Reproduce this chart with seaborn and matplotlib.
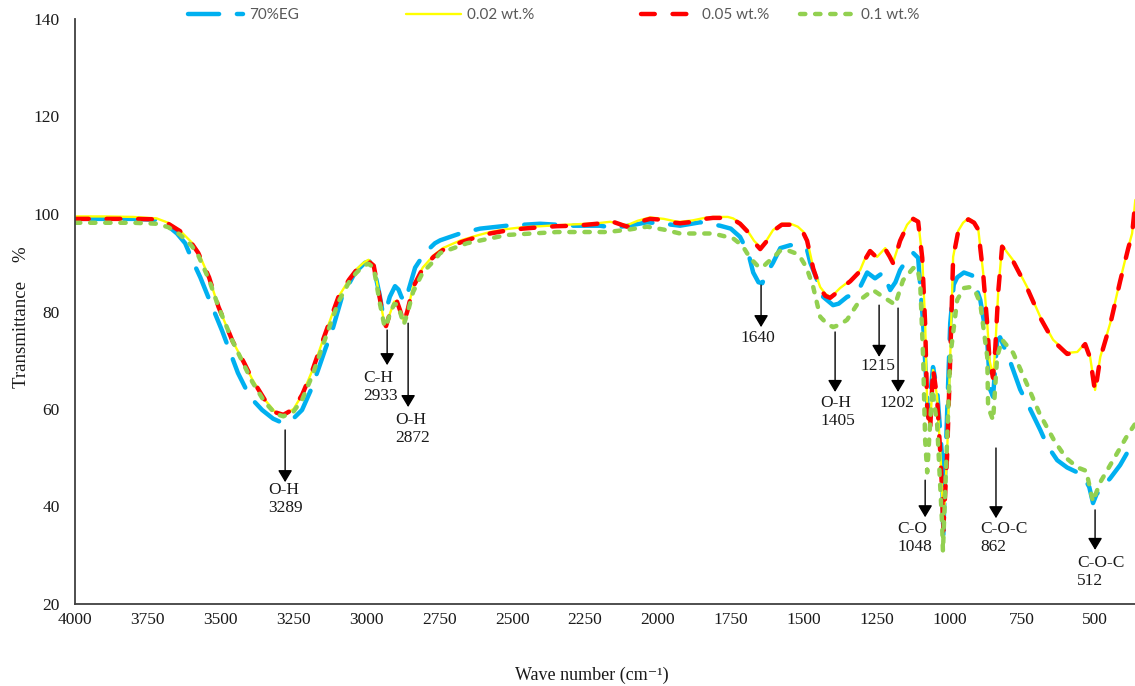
import matplotlib
matplotlib.use("Agg")
import matplotlib.pyplot as plt
from matplotlib.font_manager import FontProperties
import seaborn as sns

# ---------------- data ----------------
wn_yr = [4000, 3900, 3800, 3720, 3680, 3640, 3600, 3577, 3540, 3508, 3460, 3420, 3391, 3350, 3312, 3285,
         3250, 3220, 3185, 3150, 3120, 3096, 3060, 3037, 3010, 2993, 2975, 2955, 2940, 2933, 2920, 2905,
         2895, 2885, 2872, 2860, 2840, 2807, 2770, 2738, 2700, 2676, 2620, 2576, 2520, 2463, 2400, 2346,
         2280, 2209, 2164, 2130, 2106, 2070, 2027, 1980, 1940, 1924, 1880, 1840, 1811, 1760, 1742, 1718,
         1694, 1670, 1649, 1627, 1605, 1575, 1545, 1520, 1500, 1488, 1467, 1443, 1425, 1409, 1392, 1375,
         1340, 1306, 1290, 1272, 1248, 1220, 1205, 1193, 1180, 1169, 1145, 1124, 1107, 1093, 1083, 1076,
         1066, 1056, 1042, 1030, 1025, 1021, 1008, 997, 987, 970, 953, 935, 915, 901, 884, 870,
         862, 850, 843, 832, 819, 800, 781, 733, 688, 644, 596, 561, 534, 517, 500, 482,
         448, 414, 386, 373, 362]
t_yellow = [99.5, 99.5, 99.4, 99.1, 98.2, 96.6, 94.2, 92.2, 87.0, 81.0, 74.0, 69.5, 66.0, 62.0, 59.3, 58.8,
            60.0, 63.0, 68.0, 74.0, 79.0, 83.0, 86.5, 88.5, 90.0, 90.6, 89.6, 83.0, 78.0, 77.3, 79.5, 82.0,
            82.2, 80.5, 78.0, 80.0, 85.0, 89.0, 91.5, 93.0, 94.0, 94.6, 95.6, 96.3, 96.9, 97.3, 97.5, 97.7,
            97.9, 98.1, 98.4, 98.0, 97.7, 98.6, 99.3, 99.0, 98.5, 98.4, 98.7, 99.2, 99.4, 99.4, 99.1, 98.2,
            96.7, 94.5, 93.2, 94.6, 96.7, 98.0, 98.0, 97.4, 96.3, 94.7, 89.0, 85.0, 83.6, 83.0, 83.8, 84.8,
            86.4, 88.5, 90.8, 92.6, 91.2, 93.0, 91.5, 90.1, 92.5, 94.7, 97.8, 99.2, 98.6, 91.2, 77.6, 60.4,
            55.7, 68.0, 62.5, 50.0, 43.4, 35.2, 50.2, 70.7, 91.2, 96.5, 98.2, 99.1, 98.4, 97.0, 88.0, 77.6,
            70.0, 66.6, 72.0, 84.4, 93.5, 92.0, 90.5, 85.0, 78.9, 74.2, 71.5, 71.7, 73.5, 70.7, 63.9, 70.7,
            77.6, 86.4, 93.2, 96.0, 102.9]
t_red = [99.0, 99.0, 99.0, 98.9, 98.0, 96.5, 94.0, 92.0, 87.0, 81.0, 74.0, 69.5, 66.0, 62.0, 59.3, 58.8,
         60.0, 63.0, 68.0, 74.0, 79.0, 83.0, 86.5, 88.3, 89.8, 90.3, 89.4, 83.0, 78.0, 77.0, 79.5, 81.8,
         82.0, 80.3, 77.6, 80.0, 85.0, 88.8, 91.2, 92.6, 93.6, 94.2, 95.3, 96.0, 96.6, 97.0, 97.3, 97.5,
         97.6, 98.0, 98.6, 97.9, 97.4, 98.3, 99.0, 98.8, 98.2, 98.1, 98.4, 99.0, 99.2, 99.2, 98.9, 98.0,
         96.5, 94.2, 92.8, 94.4, 96.5, 97.8, 97.8, 97.2, 96.0, 94.5, 88.8, 84.6, 83.2, 82.8, 83.6, 84.6,
         86.2, 88.3, 90.6, 92.4, 91.0, 92.8, 91.3, 89.9, 92.3, 94.5, 97.6, 99.0, 98.4, 91.0, 77.4, 60.2,
         55.5, 68.4, 62.3, 49.8, 43.2, 35.0, 50.0, 70.5, 91.0, 96.3, 98.0, 98.9, 98.2, 96.8, 87.8, 77.4,
         69.8, 66.4, 71.8, 84.2, 93.3, 91.8, 90.3, 84.8, 78.7, 74.0, 71.3, 71.5, 73.3, 70.5, 63.5, 70.5,
         77.4, 86.2, 93.0, 95.8, 102.5]

wn_blue = [4000, 3900, 3800, 3720, 3690, 3650, 3622, 3598, 3570, 3543, 3495, 3441, 3400, 3358, 3320, 3290,
           3260, 3221, 3190, 3166, 3140, 3118, 3084, 3039, 3005, 2990, 2975, 2955, 2945, 2936, 2920, 2902,
           2890, 2880, 2868, 2855, 2833, 2800, 2765, 2747, 2679, 2610, 2518, 2404, 2291, 2200, 2154, 2100,
           2037, 1980, 1924, 1855, 1787, 1750, 1718, 1690, 1673, 1655, 1642, 1625, 1605, 1580, 1546, 1522,
           1488, 1477, 1454, 1433, 1399, 1380, 1351, 1316, 1282, 1255, 1227, 1203, 1185, 1169, 1135, 1124,
           1107, 1090, 1073, 1056, 1042, 1025, 1021, 1010, 997, 985, 973, 950, 922, 894, 870, 860,
           850, 836, 826, 790, 757, 723, 688, 664, 630, 596, 561, 540, 520, 507, 495, 482,
           448, 414, 390, 362]
t_blue = [99.0, 99.0, 99.0, 98.8, 98.0, 96.0, 94.0, 90.6, 87.0, 83.0, 76.0, 67.4, 62.5, 59.8, 58.0, 57.2,
          57.5, 59.8, 64.0, 68.0, 72.5, 76.0, 83.0, 88.0, 90.0, 90.3, 89.0, 83.5, 80.0, 79.5, 83.0, 85.2,
          84.5, 83.0, 82.0, 84.5, 89.0, 92.0, 94.0, 94.6, 96.0, 97.0, 97.6, 98.0, 97.6, 97.6, 97.2, 97.6,
          98.3, 98.0, 97.6, 98.3, 97.6, 97.0, 95.3, 92.0, 88.0, 86.0, 85.8, 88.0, 90.0, 93.0, 93.6, 93.6,
          92.6, 90.0, 86.5, 83.0, 81.3, 81.6, 83.0, 83.8, 88.0, 86.8, 88.0, 84.4, 86.0, 88.5, 91.6, 92.0,
          91.0, 77.6, 58.4, 68.6, 64.0, 50.2, 33.5, 55.0, 77.6, 85.5, 87.0, 88.0, 87.4, 82.4, 74.0, 64.0,
          62.5, 74.0, 74.7, 69.5, 64.0, 60.0, 55.7, 52.5, 49.5, 48.0, 47.0, 46.2, 44.0, 40.7, 42.5, 43.5,
          45.8, 48.5, 51.0, 53.0]

wn_green = [4000, 3900, 3800, 3720, 3680, 3640, 3600, 3577, 3540, 3508, 3460, 3420, 3391, 3350, 3312, 3285,
            3250, 3220, 3185, 3150, 3120, 3096, 3060, 3037, 3010, 2993, 2975, 2955, 2940, 2933, 2920, 2905,
            2895, 2885, 2872, 2860, 2840, 2807, 2770, 2747, 2655, 2518, 2346, 2174, 2100, 2037, 1980, 1924,
            1811, 1742, 1710, 1684, 1660, 1642, 1625, 1605, 1580, 1557, 1530, 1512, 1490, 1467, 1443, 1420,
            1399, 1375, 1351, 1306, 1262, 1227, 1186, 1159, 1124, 1110, 1100, 1090, 1083, 1076, 1059, 1042,
            1025, 1022, 1010, 997, 973, 950, 929, 910, 894, 870, 867, 850, 836, 819, 781, 733,
            690, 640, 600, 560, 530, 515, 507, 495, 482, 448, 414, 390, 362]
t_green = [98.2, 98.2, 98.2, 98.0, 97.3, 95.8, 93.5, 91.5, 86.5, 81.0, 74.0, 69.0, 65.5, 61.5, 59.0, 58.5,
           59.5, 62.0, 67.0, 73.0, 78.0, 82.0, 86.0, 87.8, 89.4, 89.8, 89.0, 82.0, 77.5, 76.8, 79.5, 81.5,
           81.5, 80.0, 77.3, 79.5, 84.0, 88.0, 90.3, 92.0, 94.0, 95.7, 96.3, 96.3, 96.8, 97.4, 96.8, 96.0,
           96.0, 95.0, 93.5, 91.0, 89.5, 89.0, 90.0, 91.0, 92.5, 92.6, 92.0, 91.2, 89.0, 85.0, 78.9, 77.5,
           76.8, 77.3, 78.3, 82.4, 84.4, 83.0, 81.4, 86.4, 88.9, 89.0, 85.8, 70.7, 53.6, 47.0, 64.0, 57.0,
           36.6, 30.8, 50.0, 70.7, 82.4, 84.8, 85.0, 84.0, 81.7, 70.7, 60.4, 57.7, 70.7, 74.2, 71.5, 65.0,
           59.0, 53.5, 50.0, 48.0, 47.3, 43.0, 41.0, 43.0, 45.0, 48.5, 52.0, 54.5, 57.0]

series_labels = ["70%EG", "0.02 wt.%", "0.05 wt.%", "0.1 wt.%"]
x_ticks = [4000, 3750, 3500, 3250, 3000, 2750, 2500, 2250, 2000, 1750, 1500, 1250, 1000, 750, 500]
y_ticks = [20, 40, 60, 80, 100, 120, 140]

# annotations: label, arrow x, arrow start y, arrow end y, text left x, text top y
ann_labels = ["O-H\n3289", "C-H\n2933", "O-H\n2872", "1640", "O-H\n1405", "1215", "1202",
              "C-O\n1048", "C-O-C\n862", "C-O-C\n512"]
ann_x = [3279, 2929, 2857, 1646, 1392, 1241, 1176, 1083, 840, 500]
ann_y0 = [55.7, 76.2, 77.6, 85.4, 75.8, 81.3, 80.7, 45.4, 52.0, 39.3]
ann_y1 = [45.0, 69.0, 60.4, 76.8, 63.5, 70.7, 63.5, 37.8, 37.6, 31.1]
ann_tx = [3338, 3012, 2902, 1718, 1443, 1306, 1241, 1179, 894, 561]
ann_ty = [45.0, 68.0, 59.4, 76.2, 62.9, 70.5, 62.9, 37.0, 37.0, 30.0]

# ---------------- style ----------------
sns.set_style("white")
plt.rcParams['font.family'] = ['Liberation Serif', 'DejaVu Serif']

W, H = 1135, 686
fig = plt.figure(figsize=(W / 100, H / 100), dpi=100)
ax = fig.add_axes([75 / W, 1 - 604 / H, 1060 / W, 585 / H])

styles = [
    dict(color="#00B0F0", linewidth=3.2, linestyle=(0, (7, 4)), dash_capstyle="round"),
    dict(color="#FFFF00", linewidth=1.7, linestyle="-"),
    dict(color="#FF0000", linewidth=3.2, linestyle=(0, (3.1, 4)), dash_capstyle="round"),
    dict(color="#92D050", linewidth=3.2, linestyle=(0, (1.2, 2.2)), dash_capstyle="round"),
]
xs = [wn_blue, wn_yr, wn_yr, wn_green]
ys = [t_blue, t_yellow, t_red, t_green]
for x, y, lab, st in zip(xs, ys, series_labels, styles):
    sns.lineplot(x=x, y=y, ax=ax, sort=False, estimator=None, legend=False, **st)

lines = ax.get_lines()

ax.set_xlim(4000, 363)
ax.set_ylim(20, 140)
ax.set_xticks(x_ticks)
ax.set_yticks(y_ticks)
ax.tick_params(axis="both", length=0, labelsize=12.5, colors="#1a1a1a")
ax.tick_params(axis="x", pad=6)
ax.tick_params(axis="y", pad=11)
for s in ["top", "right"]:
    ax.spines[s].set_visible(False)
for s in ["left", "bottom"]:
    ax.spines[s].set_color("#404040")
    ax.spines[s].set_linewidth(1.3)
ax.grid(False)

ax.set_ylabel("Transmittance    %", fontsize=13.5, color="#1a1a1a")
ax.yaxis.set_label_coords((30 - 75) / 1060, 0.49)
ax.set_xlabel("Wave number (cm\u207b\u00b9)", fontsize=13, color="#1a1a1a", va="top")
ax.xaxis.set_label_coords((592 - 75) / 1060, (604 - 667) / 585)

for lab, x, y0, y1, tx, ty in zip(ann_labels, ann_x, ann_y0, ann_y1, ann_tx, ann_ty):
    ax.annotate("", xy=(x, y1), xytext=(x, y0),
                arrowprops=dict(arrowstyle="-|>,head_length=0.6,head_width=0.36",
                                color="black", lw=1.0, mutation_scale=12,
                                shrinkA=0, shrinkB=0))
    ax.text(tx, ty, lab, ha="left", va="top", fontsize=12.5, color="#1a1a1a",
            linespacing=1.15, multialignment="left")

lprop = FontProperties(family="Lato", size=11)
leg1 = fig.legend(handles=lines[:3], labels=series_labels[:3], loc="center left",
                  bbox_to_anchor=(188 / W, 1 - 15 / H), ncol=3, frameon=False,
                  handlelength=3.6, handletextpad=0.4, columnspacing=7.0,
                  borderpad=0, borderaxespad=0, prop=lprop)
leg2 = fig.legend(handles=lines[3:], labels=series_labels[3:], loc="center left",
                  bbox_to_anchor=(800 / W, 1 - 15 / H), ncol=1, frameon=False,
                  handlelength=3.6, handletextpad=0.4,
                  borderpad=0, borderaxespad=0, prop=lprop)
for lg in (leg1, leg2):
    for t in lg.get_texts():
        t.set_color("#595959")

fig.savefig("out.png", dpi=100)
